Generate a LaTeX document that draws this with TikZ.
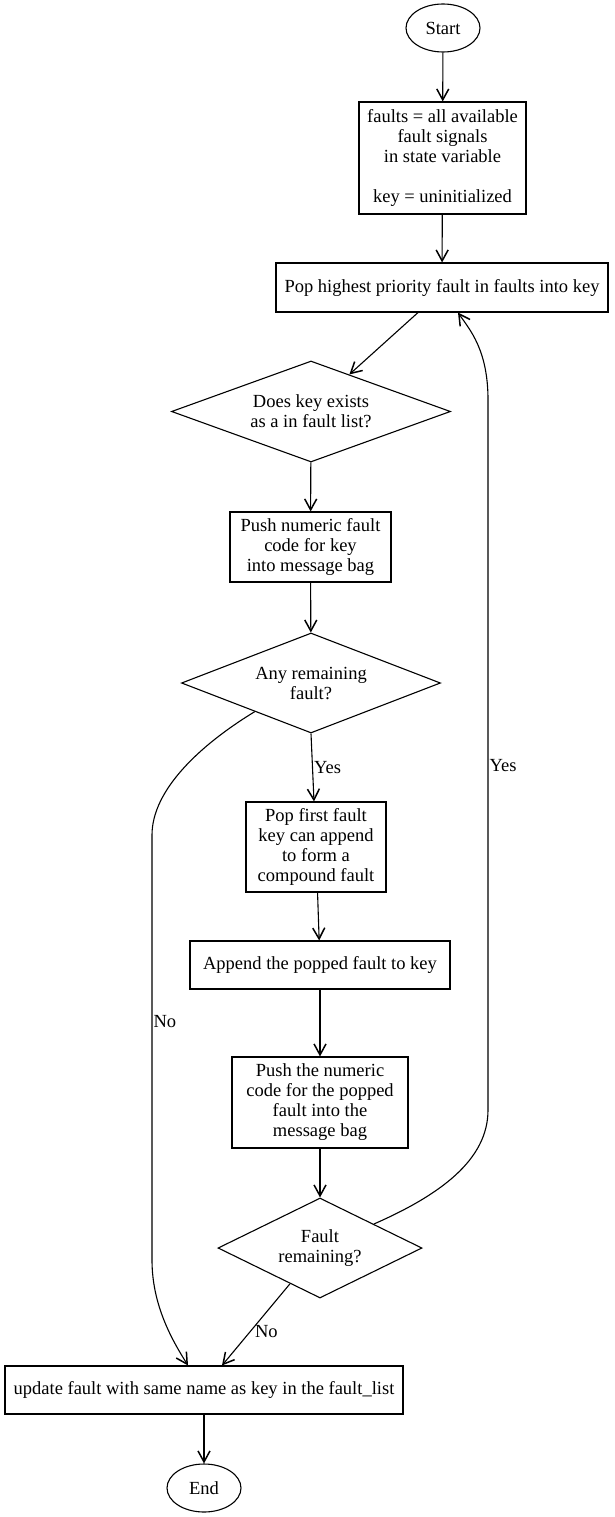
\documentclass[tikz,border=0pt]{standalone}
\usepackage{fontspec}
\setmainfont{Liberation Serif}
\usetikzlibrary{positioning,arrows.meta,shapes.geometric}

\begin{document}
\begin{tikzpicture}[
    x=1pt, y=-1pt,
    >={Straight Barb[length=11pt,width=12pt,line width=1.5pt]},
    font=\fontsize{18.5}{20}\selectfont,
    terminal/.style={ellipse, draw, line width=1.1pt, minimum width=74pt, minimum height=48pt, inner sep=0pt},
    process/.style={rectangle, draw, line width=1.1pt, align=center, inner sep=0pt},
    decision/.style={diamond, draw, line width=1.1pt, align=center, inner sep=0pt, aspect=2.5},
    flow/.style={->, line width=1.1pt},
    edgelabel/.style={font=\fontsize{18.5}{20}\selectfont, inner sep=1pt}
]
\useasboundingbox (0,0) rectangle (615,1517);

% === Nodes ===
\node[terminal] (start) at (443,28) {Start};
\node[process, minimum width=167pt, minimum height=112pt] (init) at (442.5,158)
    {faults = all available\\fault signals\\in state variable\\[20pt]key = uninitialized};
\node[process, minimum width=332pt, minimum height=49pt] (pophigh) at (442,287.5)
    {Pop highest priority fault in faults into key};
\node[decision, minimum width=279pt, minimum height=101pt] (exists) at (311,411.5)
    {Does key exists\\as a in fault list?};
\node[process, minimum width=161pt, minimum height=70pt] (pushkey) at (310.5,547)
    {Push numeric fault\\code for key\\into message bag};
\node[decision, minimum width=259pt, minimum height=100pt] (anyrem) at (311,683)
    {Any remaining\\fault?};
\node[process, minimum width=140pt, minimum height=90pt] (popfirst) at (316,847)
    {Pop first fault\\key can append\\to form a\\compound fault};
\node[process, minimum width=260pt, minimum height=48pt] (append) at (320,965)
    {Append the popped fault to key};
\node[process, minimum width=176pt, minimum height=91pt] (pushpop) at (320,1102.5)
    {Push the numeric\\code for the popped\\fault into the\\message bag};
\node[decision, minimum width=204pt, minimum height=100pt, aspect=2] (faultrem) at (320,1248)
    {Fault\\remaining?};
\node[process, minimum width=398pt, minimum height=48pt] (update) at (204,1390)
    {update fault with same name as key in the fault\_list};
\node[terminal] (end) at (204,1488) {End};

% === Main flow ===
\draw[flow] (start) -- (init);
\draw[flow] (init) -- (pophigh);
\draw[flow] ([xshift=-24pt]pophigh.south) -- (exists.44);
\draw[flow] (exists) -- (pushkey);
\draw[flow] (pushkey) -- (anyrem);
\draw[flow] (anyrem.south) -- node[right, edgelabel]{Yes} ([xshift=-2pt]popfirst.north);
\draw[flow] (popfirst) -- (append);
\draw[flow] (append) -- (pushpop);
\draw[flow] (pushpop) -- (faultrem);
\draw[flow] (update) -- (end);

% === Loops and exits ===
\draw[flow] (faultrem.24) .. controls (440,1195) and (488,1160) .. (488,1110)
    -- node[right, edgelabel, pos=0.485]{Yes} (488,400)
    .. controls (488,350) and (470,330) .. ([xshift=16pt]pophigh.south);
\draw[flow] (anyrem.207) .. controls (200,745) and (152,790) .. (152,835)
    -- node[right, edgelabel, pos=0.44]{No} (152,1260)
    .. controls (152,1305) and (172,1340) .. ([xshift=-16pt]update.north);
\draw[flow] (faultrem.230) -- node[right, edgelabel, pos=0.58, xshift=3pt]{No} ([xshift=18pt]update.north);
\end{tikzpicture}
\end{document}
